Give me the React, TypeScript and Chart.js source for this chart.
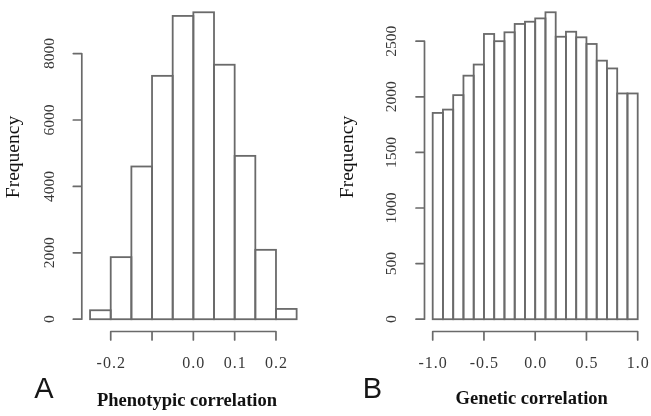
import { useEffect, useRef } from "react";
import { Chart, registerables } from "chart.js";

Chart.register(...registerables);

// Panel A: phenotypic correlation, bins of 0.05 from -0.25 to 0.25
const phenoBinStart = -0.25;
const phenoBinWidth = 0.05;
const phenoCounts = [270, 1870, 4600, 7330, 9135, 9245, 7665, 4920, 2090, 310];
const phenoXTicks = [-0.2, -0.1, 0.0, 0.1, 0.2];
const phenoXLabels = ["-0.2", "", "0.0", "0.1", "0.2"];
const phenoYTicks = [0, 2000, 4000, 6000, 8000];

// Panel B: genetic correlation, bins of 0.1 from -1.0 to 1.0
const geneticBinStart = -1.0;
const geneticBinWidth = 0.1;
const geneticCounts = [
  1855, 1885, 2015, 2190, 2290, 2565, 2500, 2580, 2655, 2675,
  2705, 2760, 2540, 2585, 2535, 2475, 2325, 2255, 2030, 2030,
];
const geneticXTicks = [-1.0, -0.5, 0.0, 0.5, 1.0];
const geneticXLabels = ["-1.0", "-0.5", "0.0", "0.5", "1.0"];
const geneticYTicks = [0, 500, 1000, 1500, 2000, 2500];

const LINE = "#6a6a6a";
const TICK_TEXT = "#383838";
const TITLE_TEXT = "#111111";
const SERIF = '"Liberation Serif", "Times New Roman", serif';
const SANS = '"Liberation Sans", Arial, sans-serif';

// Outlines every bar and draws base-graphics style detached axes.
const histogramFrame = {
  id: "histogramFrame",
  afterDatasetsDraw(chart: any) {
    const { ctx } = chart;
    const meta = chart.getDatasetMeta(0);
    ctx.save();
    ctx.strokeStyle = LINE;
    ctx.lineWidth = 1.8;
    meta.data.forEach((el: any) => {
      const { x, y, base, width } = el.getProps(["x", "y", "base", "width"], true);
      ctx.strokeRect(x - width / 2, y, width, base - y);
    });
    ctx.restore();
  },
  afterDraw(chart: any, _args: any, opts: any) {
    const { ctx, chartArea: area, scales } = chart;
    const xs = scales.x;
    const ys = scales.y;
    const xt: number[] = xs.ticks.map((t: any) => xs.getPixelForValue(t.value));
    const yt: number[] = ys.ticks.map((t: any) => ys.getPixelForValue(t.value));
    const tick = opts.tickLength;

    ctx.save();
    ctx.strokeStyle = LINE;
    ctx.lineWidth = 1.7;
    ctx.lineCap = "round";
    ctx.beginPath();
    ctx.moveTo(xt[0], area.bottom);
    ctx.lineTo(xt[xt.length - 1], area.bottom);
    xt.forEach((px) => {
      ctx.moveTo(px, area.bottom);
      ctx.lineTo(px, area.bottom + tick);
    });
    ctx.moveTo(area.left, yt[0]);
    ctx.lineTo(area.left, yt[yt.length - 1]);
    yt.forEach((py) => {
      ctx.moveTo(area.left, py);
      ctx.lineTo(area.left - tick, py);
    });
    ctx.stroke();

    // x tick labels
    ctx.fillStyle = TICK_TEXT;
    ctx.font = `16px ${SERIF}`;
    ctx.textAlign = "center";
    ctx.textBaseline = "alphabetic";
    ctx.letterSpacing = "1px";
    xt.forEach((px, i) => {
      const label = opts.xLabels[i];
      if (label) ctx.fillText(label, px + 0.5, opts.xLabelBaseline);
    });
    ctx.letterSpacing = "0px";

    // y tick labels, rotated
    ctx.font = `15.5px ${SERIF}`;
    ctx.textBaseline = "middle";
    yt.forEach((py, i) => {
      ctx.save();
      ctx.translate(opts.yLabelX, py);
      ctx.rotate(-Math.PI / 2);
      ctx.fillText(String(ys.ticks[i].value), 0, 0);
      ctx.restore();
    });

    // axis titles
    ctx.fillStyle = TITLE_TEXT;
    ctx.font = `bold 18.5px ${SERIF}`;
    ctx.textBaseline = "alphabetic";
    ctx.fillText(opts.xTitle, opts.xTitleX, opts.xTitleBaseline);

    ctx.save();
    ctx.font = `19.5px ${SERIF}`;
    ctx.translate(opts.yTitleBaseline, opts.yTitleY);
    ctx.rotate(-Math.PI / 2);
    ctx.fillText(opts.yTitle, 0, 0);
    ctx.restore();

    // panel letter
    ctx.font = `29px ${SANS}`;
    ctx.fillStyle = "#161616";
    ctx.fillText(opts.letter, opts.letterX, opts.letterBaseline);
    ctx.restore();
  },
};

type PanelSpec = {
  counts: number[];
  binStart: number;
  binWidth: number;
  xTicks: number[];
  xLabels: string[];
  yTicks: number[];
  xTitle: string;
  yTitle: string;
  letter: string;
  left: number;
  width: number;
  padding: { left: number; right: number; top: number; bottom: number };
  text: Record<string, number>;
};

const panels: PanelSpec[] = [
  {
    counts: phenoCounts,
    binStart: phenoBinStart,
    binWidth: phenoBinWidth,
    xTicks: phenoXTicks,
    xLabels: phenoXLabels,
    yTicks: phenoYTicks,
    xTitle: "Phenotypic correlation",
    yTitle: "Frequency",
    letter: "A",
    left: 0,
    width: 330,
    padding: { left: 81.8, right: 25.1, top: -3.4, bottom: 84.5 },
    text: {
      xLabelBaseline: 367.5,
      yLabelX: 50,
      xTitleX: 187,
      xTitleBaseline: 406,
      yTitleBaseline: 19.3,
      yTitleY: 157,
      letterX: 44,
      letterBaseline: 398,
    },
  },
  {
    counts: geneticCounts,
    binStart: geneticBinStart,
    binWidth: geneticBinWidth,
    xTicks: geneticXTicks,
    xLabels: geneticXLabels,
    yTicks: geneticYTicks,
    xTitle: "Genetic correlation",
    yTitle: "Frequency",
    letter: "B",
    left: 330,
    width: 321,
    padding: { left: 94.5, right: 5.1, top: -3.4, bottom: 84.5 },
    text: {
      xLabelBaseline: 368,
      yLabelX: 61.7,
      xTitleX: 201.7,
      xTitleBaseline: 404,
      yTitleBaseline: 22.6,
      yTitleY: 157,
      letterX: 42.5,
      letterBaseline: 398,
    },
  },
];

function HistogramPanel({ spec }: { spec: PanelSpec }) {
  const ref = useRef<HTMLCanvasElement>(null);

  useEffect(() => {
    const canvas = ref.current;
    if (!canvas) return;
    const n = spec.counts.length;
    const lo = spec.binStart;
    const hi = spec.binStart + n * spec.binWidth;
    const xPad = 0.04 * (hi - lo);
    const yMax = Math.max(...spec.counts);
    const points = spec.counts.map((c, i) => ({ x: lo + (i + 0.5) * spec.binWidth, y: c }));

    const chart = new Chart(canvas, {
      type: "bar",
      data: {
        datasets: [
          {
            data: points,
            backgroundColor: "#ffffff",
            borderWidth: 0,
            barPercentage: 1,
            categoryPercentage: 1,
          },
        ],
      },
      options: {
        responsive: false,
        animation: false,
        events: [],
        layout: { padding: spec.padding },
        scales: {
          x: {
            type: "linear",
            min: lo - xPad,
            max: hi + xPad,
            offset: false,
            display: false,
            afterBuildTicks: (scale: any) => {
              scale.ticks = spec.xTicks.map((v) => ({ value: v }));
            },
          },
          y: {
            type: "linear",
            min: -0.04 * yMax,
            max: 1.04 * yMax,
            display: false,
            afterBuildTicks: (scale: any) => {
              scale.ticks = spec.yTicks.map((v) => ({ value: v }));
            },
          },
        },
        plugins: {
          legend: { display: false },
          tooltip: { enabled: false },
          histogramFrame: {
            tickLength: 8.5,
            xLabels: spec.xLabels,
            xTitle: spec.xTitle,
            yTitle: spec.yTitle,
            letter: spec.letter,
            ...spec.text,
          },
        } as any,
      },
      plugins: [histogramFrame],
    } as any);

    return () => chart.destroy();
  }, [spec]);

  return (
    <canvas
      ref={ref}
      width={spec.width}
      height={416}
      style={{ position: "absolute", left: spec.left, top: 0, width: spec.width, height: 416 }}
    />
  );
}

export default function App() {
  return (
    <div
      style={{
        position: "absolute",
        left: 0,
        top: 0,
        width: 651,
        height: 416,
        background: "#ffffff",
        overflow: "hidden",
      }}
    >
      {panels.map((p) => (
        <HistogramPanel key={p.letter} spec={p} />
      ))}
    </div>
  );
}
